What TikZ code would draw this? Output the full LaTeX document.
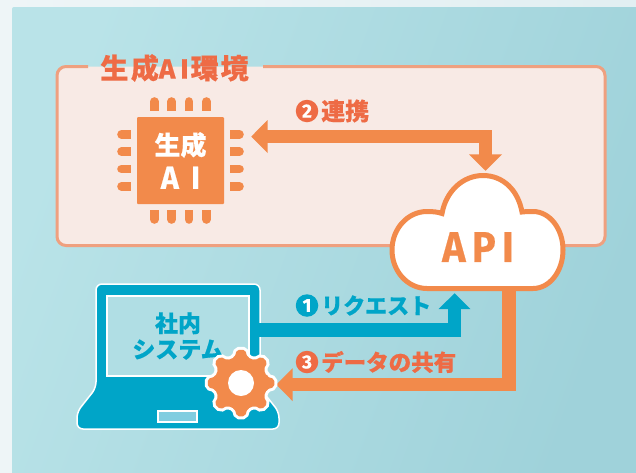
\documentclass[tikz,border=0pt]{standalone}
\usepackage{fontspec}
\usepackage{graphicx}
\setmainfont{Noto Sans CJK JP}[BoldFeatures={FakeBold=0.5}]
\newfontfamily\latn{Fira Sans}[BoldFeatures={FakeBold=0.5}]
\usetikzlibrary{arrows.meta,calc}
\definecolor{orng}{HTML}{F28A4B}
\definecolor{redo}{HTML}{EE6B45}
\definecolor{teal1}{HTML}{00A5C8}
\definecolor{envfill}{HTML}{F8EAE5}
\definecolor{envline}{HTML}{EFA07F}
\definecolor{pageL}{HTML}{EEF5F7}
\definecolor{pageR}{HTML}{E2EFF2}
\definecolor{panelL}{HTML}{B9E3E8}
\definecolor{panelR}{HTML}{9FD2DA}
\definecolor{slotfill}{HTML}{80CDE0}
\definecolor{screenfill}{HTML}{B0DEE4}
\newcommand{\fs}[1]{\fontsize{#1}{#1}\selectfont\bfseries}
\newcommand{\narrow}[3]{{\latn\bfseries\fontsize{#1}{#1}\selectfont\scalebox{#2}[1]{#3}}}
\tikzset{
  orangearrow/.style={draw=orng,line width=13.5pt},
  bluearrow/.style={draw=teal1,line width=13.5pt},
  orangetip/.tip={Triangle[length=16.5pt,width=32pt]},
  bluetip/.tip={Triangle[length=16pt,width=31pt]},
  pinline/.style={draw=orng,line width=8.6pt},
  numdisc/.style={circle,inner sep=0pt,minimum size=22.5pt,text=white,font=\latn\bfseries\fontsize{19}{19}\selectfont},
  steplabel/.style={inner sep=0pt,anchor=west},
  gearbody/.style={rounded corners=2pt},
}
\begin{document}
\begin{tikzpicture}[x=1pt,y=-1pt]
\useasboundingbox (0,0) rectangle (636,472);
% background
\shade[shading=axis,left color=pageL,right color=pageR,shading angle=90] (0,0) rectangle (636,472);
\shade[rounded corners=2pt,shading=axis,left color=panelL,right color=panelR,shading angle=70] (12,7) rectangle (640,476);
% environment panel
\fill[envfill,rounded corners=9pt] (57,66.5) rectangle (605,245.5);
\draw[envline,line width=3pt,rounded corners=9pt] (88,66.5) -- (57,66.5) -- (57,245.5) -- (605,245.5) -- (605,66.5) -- (263,66.5);
\node[inner sep=0pt,text=redo] (envtitle) at (174.5,68) {\fs{28}生\hspace{2.5pt}成\narrow{28}{1}{A\hspace{5pt}I}\hspace{2pt}環\hspace{2pt}境};
% chip
\foreach \p in {154.3,171.6,189,206.4}{
  \draw[pinline,line cap=round] (\p,101.5) -- (\p,104);
  \draw[pinline] (\p,103) -- (\p,111);
  \draw[pinline,line cap=round] (\p,219.5) -- (\p,217);
  \draw[pinline] (\p,218) -- (\p,210);
}
\foreach \p in {134.3,151.6,169,186.4}{
  \draw[pinline,line cap=round] (121.5,\p) -- (124,\p);
  \draw[pinline] (123,\p) -- (131,\p);
  \draw[pinline,line cap=round] (239.5,\p) -- (237,\p);
  \draw[pinline] (238,\p) -- (230,\p);
}
\node[fill=orng,rounded corners=1pt,minimum width=87pt,minimum height=87pt,inner sep=0pt,text=white,align=center,font=\fontsize{26}{34}\selectfont\bfseries] (chip) at (180.5,160.5)
  {生成\\\narrow{32}{0.95}{A\hspace{13pt}I}};
% invisible frames of the API cloud and of the gear, used as connector ends
\node[minimum width=177pt,minimum height=118pt,inner sep=0pt] (api) at (478,232) {};
\node[circle,minimum size=70pt,inner sep=0pt] (gear) at (241,383) {};
\node[inner sep=0pt,minimum width=142pt,minimum height=80pt] (screenframe) at (178,336) {};
% laptop body
\draw[white,fill=teal1,line width=1.5pt,rounded corners=6pt]
  (96,388) -- (96,284) -- (260,284) -- (260,388) -- (279,412) -- (279,429) -- (77,429) -- (77,412) -- cycle;
\draw[white,fill=slotfill,line width=1.5pt] (158,411) rectangle (197,422);
% connectors
\coordinate (c2start) at ($(chip.east)+(27,-24)$);
\coordinate (c2end) at ($(api.north)+(7.5,-2)$);
\coordinate (c3start) at ($(api.south)+(31,-6)$);
\coordinate (c3bend) at ($(api.south)+(31,93.5)$);
\coordinate (c1start) at ($(screenframe.east)+(0,-6)$);
\coordinate (c1end) at ($(api.south)+(-23.5,2)$);
\draw[orangearrow,{orangetip}-{orangetip}] (c2start) -- (c2start -| c2end) -- (c2end);
\draw[orangearrow,-{orangetip}] (c3start) -- (c3bend) -- (c3bend -| gear.east);
\draw[bluearrow,-{bluetip}] (c1start) -- (c1start -| c1end) -- (c1end);
% laptop screen
\node[draw=white,fill=screenfill,line width=1.5pt,inner sep=0pt,minimum width=142pt,minimum height=80pt,text=teal1,align=center,font=\fontsize{23}{26}\selectfont\bfseries] (screen) at (178,336)
  {社内\\システム};
% gear
\begin{scope}[shift={(241,383)}]
\path[gearbody,draw=white,line width=6pt,fill=white] (-14:26.5) \foreach \a in {0,45,...,315}{ -- (\a-14:26.5) -- (\a-7:33.5) -- (\a+7:33.5) -- (\a+14:26.5)} -- cycle;
\path[gearbody,fill=orng] (-14:26.5) \foreach \a in {0,45,...,315}{ -- (\a-14:26.5) -- (\a-7:33.5) -- (\a+7:33.5) -- (\a+14:26.5)} -- cycle;
\fill[white] (0,0) circle (13pt);
\end{scope}
% cloud
\draw[orng,fill=white,line width=5pt] (533,288.5) -- (427,288.5)
  .. controls (407.7,288.5) and (392,271.3) .. (392,250)
  .. controls (392,228.7) and (407.7,211.5) .. (427,211.5)
  .. controls (433,211.5) and (438,212) .. (442,213.5)
  .. controls (446,191) and (463,175.5) .. (483,175.5)
  .. controls (503,175.5) and (518,190) .. (522,212)
  .. controls (526,211.5) and (530,211.5) .. (533,211.5)
  .. controls (549.6,211.5) and (563,228.7) .. (563,250)
  .. controls (563,271.3) and (549.6,288.5) .. (533,288.5) -- cycle;
\node[inner sep=0pt,text=orng] (apilabel) at (478,247) {\narrow{43}{0.92}{A\hspace{7pt}P\hspace{7pt}I}};
% labels
\node[numdisc,fill=redo] (n2) at (307,111) {2};
\node[steplabel,text=redo,font=\fs{24}] (l2) at (321,111) {連携};
\node[numdisc,fill=teal1] (n1) at (307,305.5) {1};
\node[steplabel,text=teal1,font=\fs{22}] (l1) at (321,305.5) {リクエスト};
\node[numdisc,fill=redo] (n3) at (307,362) {3};
\node[steplabel,text=redo,font=\fs{22.5}] (l3) at (321,362) {データの共有};
\end{tikzpicture}
\end{document}
